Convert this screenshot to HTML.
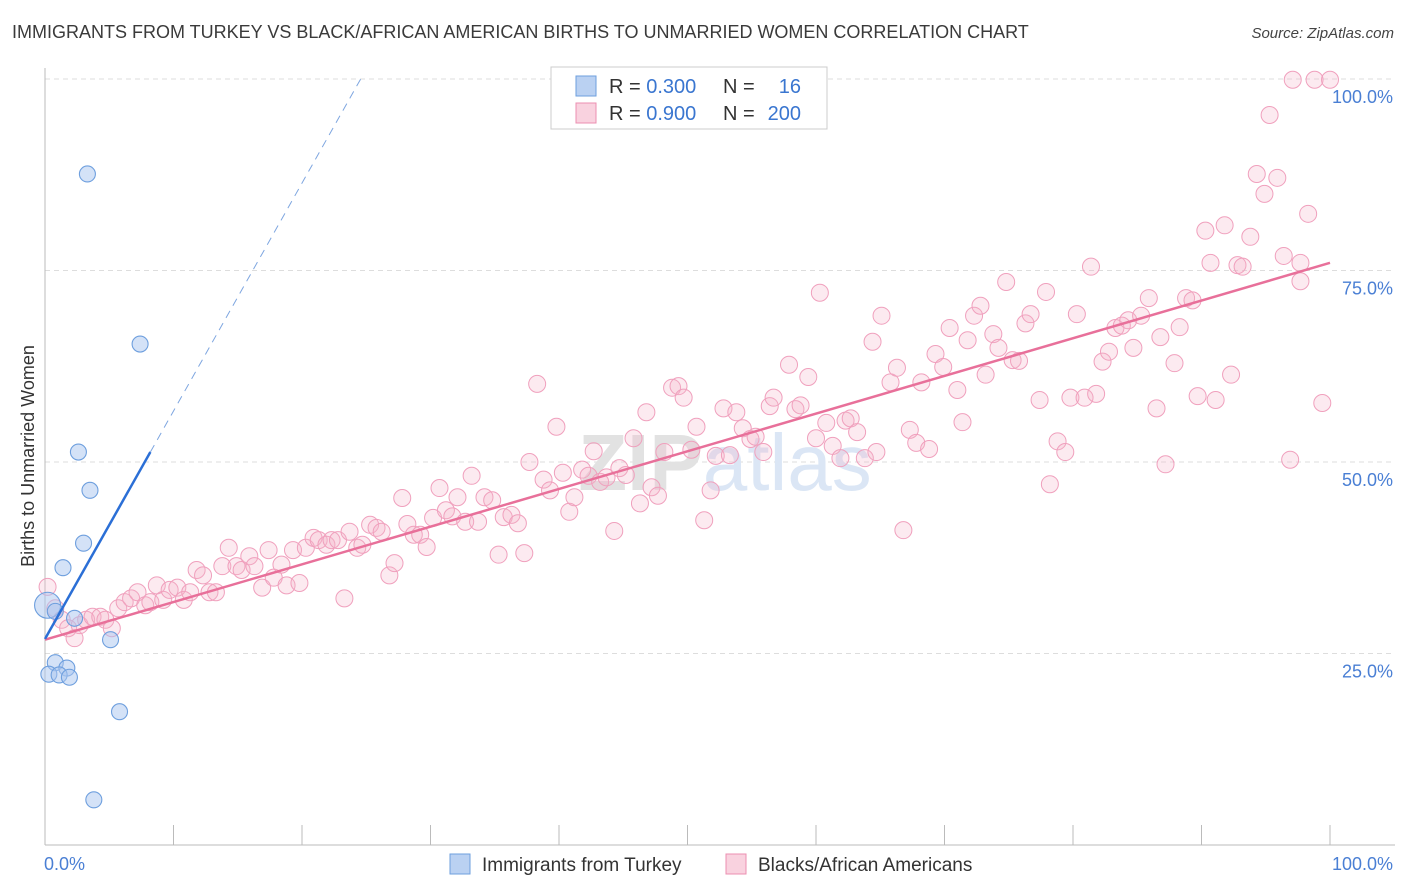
<!DOCTYPE html>
<html><head><meta charset="utf-8"><style>
body{margin:0;background:#fff;font-family:"Liberation Sans",sans-serif}
#wrap{position:relative;width:1406px;height:892px;overflow:hidden}
.t{position:absolute;white-space:nowrap}
</style></head><body>
<div id="wrap">
<div class="t" style="left:12px;top:22px;font-size:18px;color:#3a3a3a">IMMIGRANTS FROM TURKEY VS BLACK/AFRICAN AMERICAN BIRTHS TO UNMARRIED WOMEN CORRELATION CHART</div>
<div class="t" style="right:12px;top:25px;font-size:15px;color:#444;font-style:italic">Source: ZipAtlas.com</div>
<svg id="svg" width="1406" height="892" style="position:absolute;left:0;top:0"></svg>
</div>
<script>
const xTicks=[0,100];
const yTicks=[25,50,75,100];
const yTickLabels=["25.0%","50.0%","75.0%","100.0%"];
const blueR=0.300, blueN=16, pinkR=0.900, pinkN=200;
const bluePoints=[[3.3,87.6],[7.4,65.4],[2.6,51.3],[3.5,46.3],[3.0,39.4],[1.4,36.2],[0.2,31.3],[0.8,30.5],[2.3,29.6],[5.1,26.8],[0.8,23.8],[1.7,23.1],[0.3,22.3],[1.1,22.2],[1.9,21.9],[5.8,17.4],[3.8,5.9]];
const pinkPoints=[[0.2,33.7],[0.8,30.9],[1.3,29.4],[1.8,28.3],[2.3,27.0],[2.7,28.7],[3.2,29.4],[3.7,29.8],[4.3,29.8],[4.7,29.4],[5.2,28.3],[5.7,30.9],[6.2,31.7],[6.7,32.2],[7.2,33.0],[7.8,31.3],[8.2,31.7],[8.7,33.9],[9.2,32.0],[9.7,33.3],[10.3,33.6],[10.8,32.0],[11.3,33.0],[11.8,35.9],[12.3,35.2],[12.8,33.0],[13.3,33.0],[13.8,36.4],[14.3,38.8],[14.9,36.4],[15.3,35.9],[15.9,37.7],[16.3,36.4],[16.9,33.6],[17.4,38.5],[17.8,34.9],[18.4,36.6],[18.8,33.9],[19.3,38.5],[19.8,34.2],[20.3,38.8],[20.9,40.1],[21.3,39.8],[21.9,39.2],[22.3,39.8],[22.8,39.8],[23.3,32.2],[23.7,40.9],[24.3,38.8],[24.7,39.2],[25.3,41.8],[25.8,41.4],[26.2,40.9],[26.8,35.2],[27.2,36.8],[27.8,45.3],[28.2,41.9],[28.7,40.5],[29.2,40.5],[29.7,38.9],[30.2,42.7],[30.7,46.6],[31.2,43.7],[31.7,42.9],[32.1,45.4],[32.7,42.2],[33.2,48.2],[33.7,42.2],[34.2,45.4],[34.8,45.0],[35.3,37.9],[35.7,42.8],[36.3,43.1],[36.8,42.0],[37.3,38.1],[37.7,50.0],[38.3,60.2],[38.8,47.7],[39.3,46.3],[39.8,54.6],[40.3,48.6],[40.8,43.5],[41.2,45.4],[41.8,49.0],[42.3,48.2],[42.7,51.4],[43.2,47.4],[43.7,48.0],[44.3,41.0],[44.7,49.2],[45.2,48.3],[45.8,53.1],[46.3,44.6],[46.8,56.5],[47.2,46.7],[47.7,45.6],[48.2,51.3],[48.8,59.7],[49.3,59.9],[49.7,58.4],[50.3,51.6],[50.7,54.6],[51.3,42.4],[51.8,46.3],[52.2,50.8],[52.8,57.0],[53.3,50.9],[53.8,56.5],[54.3,54.4],[54.9,53.0],[55.3,53.3],[55.9,51.3],[56.4,57.3],[56.7,58.4],[57.9,62.7],[58.4,56.9],[58.8,57.4],[59.4,61.1],[60.0,53.1],[60.3,72.1],[60.8,55.1],[61.3,52.1],[61.9,50.5],[62.3,55.4],[62.7,55.7],[63.2,53.9],[63.8,50.5],[64.4,65.7],[64.7,51.3],[65.1,69.1],[65.8,60.4],[66.3,62.3],[66.8,41.1],[67.3,54.2],[67.8,52.5],[68.2,60.4],[68.8,51.7],[69.3,64.1],[69.9,62.4],[70.4,67.5],[71.0,59.4],[71.4,55.2],[71.8,65.9],[72.3,69.1],[72.8,70.4],[73.2,61.4],[73.8,66.7],[74.2,64.9],[74.8,73.5],[75.3,63.3],[75.8,63.2],[76.3,68.1],[76.7,69.3],[77.4,58.1],[77.9,72.2],[78.2,47.1],[78.8,52.7],[79.4,51.3],[79.8,58.4],[80.3,69.3],[80.9,58.4],[81.4,75.5],[81.8,58.9],[82.3,63.1],[82.8,64.4],[83.3,67.5],[83.8,67.8],[84.3,68.5],[84.7,64.9],[85.3,69.1],[85.9,71.4],[86.5,57.0],[86.8,66.3],[87.2,49.7],[87.9,62.9],[88.3,67.6],[88.8,71.4],[89.3,71.1],[89.7,58.6],[90.3,80.2],[90.7,76.0],[91.1,58.1],[91.8,80.9],[92.3,61.4],[92.8,75.7],[93.2,75.5],[93.8,79.4],[94.3,87.6],[94.9,85.0],[95.3,95.3],[95.9,87.1],[96.4,76.9],[96.9,50.3],[97.7,76.0],[98.3,82.4],[97.1,99.9],[98.8,99.9],[100,99.9],[99.4,57.7],[97.7,73.6]];
const pinkLine=[26.8,76.0];   // y at x=0 and x=100
const blueLine=[26.9,51.3,8.2]; // y at 0, y at solid end, solid end x

const L=45,R=1330,T=79,B=845;
const X=v=>L+(R-L)*v/100, Y=v=>B-(B-T)*v/100;
const svg=document.getElementById('svg');
const NS='http://www.w3.org/2000/svg';
function mk(tag,a){const e=document.createElementNS(NS,tag);for(const k in a)e.setAttribute(k,a[k]);svg.appendChild(e);return e;}

yTicks.forEach((v,i)=>{
  const g=mk('line',{x1:L,x2:1395,y1:Y(v),y2:Y(v),stroke:'#ddd','stroke-dasharray':'5,4'});
  
  
  const t=mk('text',{x:1393,y:Y(v)+24,'text-anchor':'end','font-size':18,fill:'#4a7fd4','font-family':'Liberation Sans'});
  t.textContent=yTickLabels[i];
  
  
});
const ax=mk('line',{x1:L,x2:L,y1:68,y2:B,stroke:'#bbb'});


const bx=mk('line',{x1:L,x2:1395,y1:B,y2:B,stroke:'#bbb'});


for(let i=0;i<=10;i++){
  const tk=mk('line',{x1:X(i*10),x2:X(i*10),y1:825,y2:B,stroke:'#bbb'});
  
  
}
xTicks.forEach(v=>{
  const t=mk('text',{x:v===0?X(v)-1:1393,y:870,'text-anchor':v===0?'start':'end','font-size':18,fill:'#4a7fd4','font-family':'Liberation Sans'});
  t.textContent=v.toFixed(1)+'%';
  
  
});
const wm=mk('text',{x:725,y:490,'text-anchor':'middle','font-size':80,'font-weight':'bold',fill:'#e6e6e6','font-family':'Liberation Sans'});
wm.innerHTML='<tspan fill="#e2e2e2">ZIP</tspan><tspan fill="#dbe6f5" font-weight="normal">atlas</tspan>';



pinkPoints.forEach(p=>{
  const c=mk('circle',{cx:X(p[0]),cy:Y(p[1]),r:8.5,fill:'rgba(246,178,202,0.28)',stroke:'#f0a0bd','stroke-width':1});
  
  
});
bluePoints.forEach((p,i)=>{
  const c=mk('circle',{cx:X(p[0]),cy:Y(p[1]),r:i===6?13:8,fill:'rgba(169,198,239,0.5)',stroke:'#6e9fde','stroke-width':1.1});
  
  
});
const pl=mk('line',{x1:X(0),y1:Y(pinkLine[0]),x2:X(100),y2:Y(pinkLine[1]),stroke:'#e8709a','stroke-width':2.5});


const slope=(blueLine[1]-blueLine[0])/blueLine[2];
const bl=mk('line',{x1:X(0),y1:Y(blueLine[0]),x2:X(blueLine[2]),y2:Y(blueLine[1]),stroke:'#2b6fd6','stroke-width':2.5});


const xe=(100-blueLine[0])/slope;
const bd=mk('line',{x1:X(blueLine[2]),y1:Y(blueLine[1]),x2:X(xe),y2:Y(100),stroke:'#7ea6e0','stroke-width':1,'stroke-dasharray':'8,6'});



const lg=mk('rect',{x:551,y:67,width:276,height:62,fill:'#fff',stroke:'#ccc'});


[[blueR,blueN,'rgba(169,198,239,0.8)','#6e9fde',86],[pinkR,pinkN,'rgba(244,166,192,0.5)','#ec8fb0',113]].forEach(r=>{
  const s=mk('rect',{x:576,y:r[4]-10,width:20,height:20,fill:r[2],stroke:r[3]});
  
  
  const t=mk('text',{x:609,y:r[4]+7,'font-size':20,fill:'#333','font-family':'Liberation Sans'});
  t.innerHTML='R = <tspan fill="#3a76d0">'+r[0].toFixed(3)+'</tspan><tspan x="723">N =</tspan><tspan x="801" text-anchor="end" fill="#3a76d0">'+r[1]+'</tspan>';
  
  
});
[[450,'rgba(169,198,239,0.8)','#6e9fde','Immigrants from Turkey'],[726,'rgba(244,166,192,0.5)','#ec8fb0','Blacks/African Americans']].forEach(r=>{
  const s=mk('rect',{x:r[0],y:854,width:20,height:20,fill:r[1],stroke:r[2]});
  
  
  const t=mk('text',{x:r[0]+32,y:871,'font-size':19,fill:'#333','font-family':'Liberation Sans'});
  t.textContent=r[3];
  
  
});
const yt=mk('text',{x:34,y:456,'text-anchor':'middle','font-size':18,fill:'#333','font-family':'Liberation Sans',transform:'rotate(-90 34 456)'});
yt.textContent='Births to Unmarried Women';


</script>
</body></html>
